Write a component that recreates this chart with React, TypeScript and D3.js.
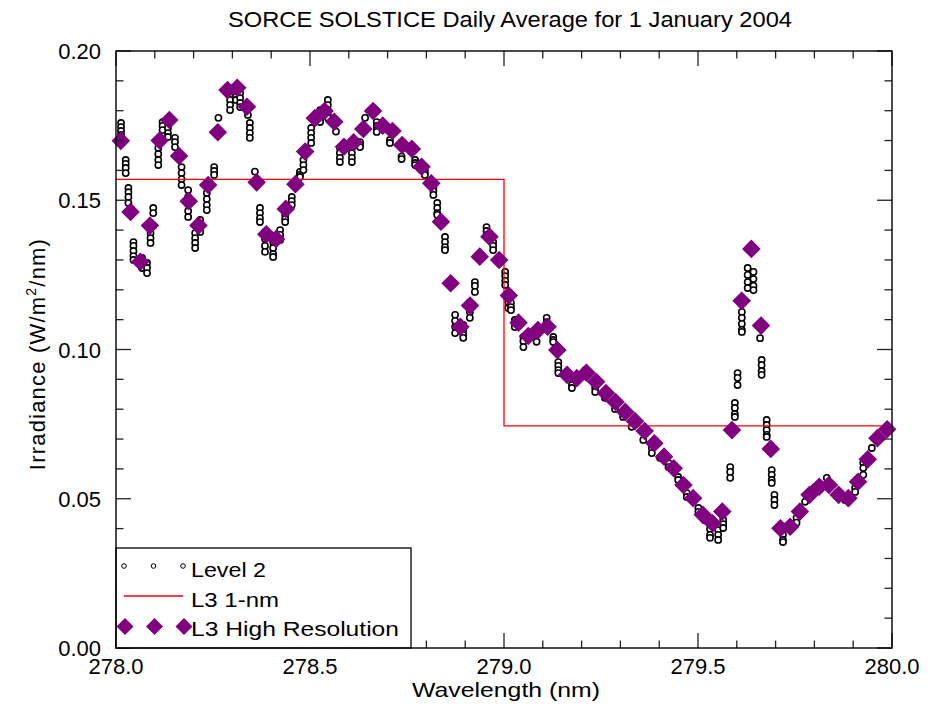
import React from "react";
import * as d3 from "d3";

// ---------- data ----------
// L3 high-resolution spectrum (nm, W/m^2/nm)
const hiresWavelength = [
  278.0125, 278.0375, 278.0625, 278.0875, 278.1125, 278.1375, 278.1625, 278.1875, 278.2125, 278.2375,
  278.2625, 278.2875, 278.3125, 278.3375, 278.3625, 278.3875, 278.4125, 278.4375, 278.4625, 278.4875,
  278.5125, 278.5375, 278.5625, 278.5875, 278.6125, 278.6375, 278.6625, 278.6875, 278.7125, 278.7375,
  278.7625, 278.7875, 278.8125, 278.8375, 278.8625, 278.8875, 278.9125, 278.9375, 278.9625, 278.9875,
  279.0125, 279.0375, 279.0625, 279.0875, 279.1125, 279.1375, 279.1625, 279.1875, 279.2125, 279.2375,
  279.2625, 279.2875, 279.3125, 279.3375, 279.3625, 279.3875, 279.4125, 279.4375, 279.4625, 279.4875,
  279.5125, 279.5375, 279.5625, 279.5875, 279.6125, 279.6375, 279.6625, 279.6875, 279.7125, 279.7375,
  279.7625, 279.7875, 279.8125, 279.8375, 279.8625, 279.8875, 279.9125, 279.9375, 279.9625, 279.9875,
];
const hiresIrradiance = [
  0.1699, 0.1461, 0.1294, 0.1415, 0.17, 0.1769, 0.1648, 0.1497, 0.1415, 0.1551,
  0.1728, 0.1869, 0.1877, 0.1813, 0.156, 0.1386, 0.137, 0.1471, 0.1554, 0.1663,
  0.1775, 0.1799, 0.1763, 0.1679, 0.1694, 0.1739, 0.1799, 0.175, 0.1732, 0.1685,
  0.1672, 0.1612, 0.1557, 0.1428, 0.1222, 0.1076, 0.1147, 0.1311, 0.1378, 0.13,
  0.1181, 0.109, 0.1045, 0.1065, 0.1076, 0.0998, 0.0915, 0.0904, 0.0922, 0.0892,
  0.0854, 0.0824, 0.0791, 0.076, 0.0727, 0.0686, 0.0641, 0.0602, 0.0546, 0.0502,
  0.0446, 0.0418, 0.0457, 0.073, 0.1163, 0.1337, 0.108, 0.0667, 0.0401, 0.0406,
  0.0457, 0.0513, 0.054, 0.0546, 0.0513, 0.0502, 0.0557, 0.0632, 0.0703, 0.0733,
];

// L3 1-nm bins: bin edges and bin averages
const binEdges = [278.0, 279.0, 280.0];
const binIrradiance = [0.157, 0.0744];

// Level 2 individual measurements, grouped by wavelength
const l2Wavelength = [
  278.013, 278.025, 278.032, 278.045, 278.067, 278.08, 278.089, 278.096, 278.109, 278.12,
  278.134, 278.152, 278.169, 278.186, 278.204, 278.217, 278.234, 278.253, 278.264, 278.294,
  278.309, 278.32, 278.34, 278.345, 278.358, 278.371, 278.384, 278.405, 278.423, 278.436,
  278.453, 278.474, 278.483, 278.503, 278.526, 278.546, 278.567, 278.577, 278.608, 278.629,
  278.642, 278.672, 278.706, 278.736, 278.771, 278.796, 278.818, 278.828, 278.848, 278.874,
  278.895, 278.912, 278.925, 278.955, 278.972, 279.003, 279.011, 279.018, 279.028, 279.05,
  279.084, 279.11, 279.127, 279.14, 279.175, 279.209, 279.235, 279.26, 279.286, 279.307,
  279.329, 279.359, 279.381, 279.402, 279.424, 279.449, 279.471, 279.501, 279.518, 279.531,
  279.552, 279.565, 279.583, 279.595, 279.602, 279.613, 279.628, 279.643, 279.66, 279.664,
  279.677, 279.69, 279.697, 279.719, 279.754, 279.776, 279.8015, 279.832, 279.858, 279.879,
  279.905, 279.926, 279.948, 279.966, 279.986,
];
const l2Irradiance = [
  [0.1759, 0.1745, 0.1732, 0.1719, 0.1709],
  [0.1635, 0.1622, 0.1608, 0.1591],
  [0.1541, 0.1527, 0.1511, 0.1491],
  [0.136, 0.1347, 0.133, 0.1313, 0.13],
  [0.1307, 0.129, 0.1273],
  [0.129, 0.1273, 0.1256],
  [0.139, 0.1373, 0.1357],
  [0.1474, 0.1457],
  [0.1675, 0.1655, 0.1635, 0.1618],
  [0.1762, 0.1749, 0.1735],
  [0.1759, 0.1742, 0.1725, 0.1712],
  [0.1709, 0.1695, 0.1678],
  [0.1611, 0.1591, 0.1571, 0.1551],
  [0.1534, 0.1511, 0.1487, 0.1464, 0.1444],
  [0.139, 0.1373, 0.1357, 0.134],
  [0.1434, 0.1417, 0.1394],
  [0.1524, 0.1504, 0.1484, 0.1467],
  [0.1611, 0.1598, 0.1585],
  [0.1776],
  [0.1853, 0.1836, 0.1819, 0.1802],
  [0.1859, 0.1846, 0.1836],
  [0.1859, 0.1842, 0.1826, 0.1812],
  [0.1786],
  [0.1759, 0.1742, 0.1725, 0.1709],
  [0.1596],
  [0.1474, 0.1457, 0.144, 0.1427],
  [0.1394, 0.137, 0.1347, 0.1327],
  [0.136, 0.134, 0.132, 0.131],
  [0.14, 0.1384, 0.1367],
  [0.1451, 0.1437, 0.1427],
  [0.1511, 0.1497, 0.1484],
  [0.1595, 0.1585, 0.1578],
  [0.1635, 0.1618, 0.1601],
  [0.1742, 0.1725, 0.1709, 0.1692],
  [0.1802, 0.1786, 0.1769, 0.1762],
  [0.1836, 0.1819, 0.1802, 0.1786, 0.1776],
  [0.173],
  [0.1675, 0.1658, 0.1642, 0.1628],
  [0.1675, 0.1658, 0.1642, 0.1628],
  [0.1695, 0.1685, 0.1678],
  [0.1776],
  [0.1762, 0.1749, 0.1735, 0.1729],
  [0.1702, 0.1692],
  [0.1646, 0.1638],
  [0.1635, 0.1625, 0.1618],
  [0.1601, 0.1591, 0.1585],
  [0.1541, 0.1531, 0.1518],
  [0.1491, 0.1474, 0.1457, 0.1451],
  [0.1377, 0.136, 0.1343, 0.1333],
  [0.1116, 0.1096, 0.1076, 0.1055],
  [0.1082, 0.1065, 0.1049, 0.1039],
  [0.1159, 0.1142, 0.1126, 0.1106],
  [0.1226, 0.1213, 0.1193],
  [0.141, 0.1397, 0.1384],
  [0.136, 0.1347, 0.1333],
  [0.126, 0.1246, 0.123, 0.1216],
  [0.1173, 0.1159, 0.1139],
  [0.1156, 0.1142, 0.1132],
  [0.1099, 0.1089, 0.1075],
  [0.1042, 0.1028, 0.1008],
  [0.1026],
  [0.1106, 0.1092, 0.1075],
  [0.1042, 0.1032, 0.1025],
  [0.0958, 0.0945, 0.0931, 0.0921],
  [0.0881, 0.0871],
  [0.0931],
  [0.0871, 0.0858],
  [0.0838],
  [0.0801],
  [0.0774],
  [0.0741],
  [0.0697],
  [0.067, 0.0653],
  [0.0637],
  [0.062, 0.0606],
  [0.0573, 0.0563],
  [0.0519, 0.0506],
  [0.0469, 0.0456],
  [0.0446, 0.0429],
  [0.0419, 0.0399, 0.0379, 0.0369],
  [0.0395, 0.0379, 0.0362],
  [0.0429, 0.0415, 0.0402],
  [0.0606, 0.059, 0.057],
  [0.0821, 0.0804, 0.0784, 0.0774],
  [0.0921, 0.0905, 0.0881],
  [0.1126, 0.1106, 0.1086, 0.1066, 0.1059],
  [0.1273, 0.125, 0.1226, 0.1206],
  [0.126, 0.1236, 0.1213, 0.1199],
  [0.1038],
  [0.0965, 0.0948, 0.0928, 0.0915],
  [0.0764, 0.0747, 0.073, 0.0714, 0.0707],
  [0.0596, 0.058, 0.0563, 0.0553],
  [0.0513, 0.0496, 0.0479],
  [0.0395, 0.0379, 0.0362, 0.0355],
  [0.0436, 0.042],
  [0.049],
  [0.0539],
  [0.057],
  [0.0519],
  [0.0496],
  [0.0536, 0.0523],
  [0.062, 0.0603, 0.058],
  [0.067],
  [0.0707],
  [0.074],
];

const xTickValues = [278.0, 278.5, 279.0, 279.5, 280.0];
const yTickValues = [0.0, 0.05, 0.1, 0.15, 0.2];
const legendLabels = ["Level 2", "L3 1-nm", "L3 High Resolution"];

const titleText = "SORCE SOLSTICE Daily Average for 1 January 2004";

// ---------- layout ----------
const W = 934;
const H = 704;
const plot = { left: 116, right: 892, top: 51, bottom: 648 };
const FONT = "'Liberation Sans', Arial, Helvetica, sans-serif";
const PURPLE = "#800080";
const legendWidths = [75, 88, 208];

export default function App() {
  const x = d3.scaleLinear().domain([278, 280]).range([plot.left, plot.right]);
  const y = d3.scaleLinear().domain([0, 0.2]).range([plot.bottom, plot.top]);

  const xMinor = d3.range(0, 21).map((i) => 278 + i * 0.1);
  const yMinor = d3.range(0, 21).map((i) => i * 0.01);

  const stepPts: [number, number][] = [
    [binEdges[0], binIrradiance[0]],
    [binEdges[1], binIrradiance[1]],
    [binEdges[2], binIrradiance[1]],
  ];
  const stepLine = d3
    .line<[number, number]>()
    .x((d) => x(d[0]))
    .y((d) => y(d[1]))
    .curve(d3.curveStepAfter)(stepPts);

  const diamond = (cx: number, cy: number, r: number) =>
    `M${cx},${cy - r}L${cx + r},${cy}L${cx},${cy + r}L${cx - r},${cy}Z`;

  const majorLen = 15;
  const minorLen = 7.5;
  const tickColor = "#222";

  const isMajorX = (v: number) => xTickValues.some((t) => Math.abs(t - v) < 1e-6);
  const isMajorY = (v: number) => yTickValues.some((t) => Math.abs(t - v) < 1e-6);

  const l2Points: { w: number; v: number }[] = [];
  l2Wavelength.forEach((w, i) => l2Irradiance[i].forEach((v) => l2Points.push({ w, v })));

  const legend = { x0: 116, y0: 548, x1: 411, y1: 648 };
  const legendSymX = [124, 153.5, 183];

  return (
    <svg
      width={W}
      height={H}
      style={{ position: "absolute", left: 0, top: 0, background: "#fff" }}
      fontFamily={FONT}
    >
      <rect x={0} y={0} width={W} height={H} fill="#fff" />

      {/* title */}
      <text
        x={510}
        y={27}
        fontSize={22}
        textAnchor="middle"
        textLength={564}
        lengthAdjust="spacingAndGlyphs"
      >
        {titleText}
      </text>

      {/* Level 2 measurements */}
      <g>
        {l2Points.map((p, i) => (
          <circle
            key={i}
            cx={x(p.w)}
            cy={y(p.v)}
            r={3.1}
            fill="#fff"
            stroke="#000"
            strokeWidth={1.6}
          />
        ))}
      </g>

      {/* L3 1-nm bins */}
      <path d={stepLine || ""} fill="none" stroke="#ff0000" strokeWidth={1.3} />

      {/* L3 high resolution */}
      <g>
        {hiresWavelength.map((w, i) => (
          <path key={i} d={diamond(x(w), y(hiresIrradiance[i]), 9.3)} fill={PURPLE} />
        ))}
      </g>

      {/* ticks on all four sides */}
      <g stroke={tickColor} strokeWidth={1.3}>
        {xMinor.map((v, i) => {
          const len = isMajorX(v) ? majorLen : minorLen;
          const px = x(v);
          return (
            <g key={`xt${i}`}>
              <line x1={px} x2={px} y1={plot.bottom} y2={plot.bottom - len} />
              <line x1={px} x2={px} y1={plot.top} y2={plot.top + len} />
            </g>
          );
        })}
        {yMinor.map((v, i) => {
          const len = isMajorY(v) ? majorLen : minorLen;
          const py = y(v);
          return (
            <g key={`yt${i}`}>
              <line x1={plot.left} x2={plot.left + len} y1={py} y2={py} />
              <line x1={plot.right} x2={plot.right - len} y1={py} y2={py} />
            </g>
          );
        })}
      </g>

      {/* legend */}
      <g>
        <rect
          x={legend.x0}
          y={legend.y0}
          width={legend.x1 - legend.x0}
          height={legend.y1 - legend.y0}
          fill="#fff"
          stroke="#000"
          strokeWidth={1.3}
        />
        {legendSymX.map((lx, i) => (
          <circle key={`lc${i}`} cx={lx} cy={566} r={2.3} fill="#fff" stroke="#000" strokeWidth={1} />
        ))}
        <line x1={legendSymX[0]} x2={legendSymX[2]} y1={596} y2={596} stroke="#ff0000" strokeWidth={1.3} />
        {legendSymX.map((lx, i) => (
          <path key={`ld${i}`} d={diamond(lx + 1, 626.5, 8.5)} fill={PURPLE} />
        ))}
        {legendLabels.map((t, i) => (
          <text
            key={t}
            x={191}
            y={577 + i * 29.5}
            fontSize={21}
            textLength={legendWidths[i]}
            lengthAdjust="spacingAndGlyphs"
          >
            {t}
          </text>
        ))}
      </g>

      {/* frame */}
      <rect
        x={plot.left}
        y={plot.top}
        width={plot.right - plot.left}
        height={plot.bottom - plot.top}
        fill="none"
        stroke="#000"
        strokeWidth={1.4}
      />

      {/* tick labels */}
      {xTickValues.map((v) => (
        <text key={`xl${v}`} x={x(v)} y={674} fontSize={22} textAnchor="middle">
          {v.toFixed(1)}
        </text>
      ))}
      {yTickValues.map((v) => (
        <text key={`yl${v}`} x={101} y={y(v) + 8} fontSize={22} textAnchor="end">
          {v.toFixed(2)}
        </text>
      ))}

      {/* axis titles */}
      <text
        x={506}
        y={697}
        fontSize={21}
        textAnchor="middle"
        textLength={188}
        lengthAdjust="spacingAndGlyphs"
      >
        Wavelength (nm)
      </text>
      <text
        transform={`translate(45, 354) rotate(-90)`}
        fontSize={22}
        letterSpacing={1.2}
        textAnchor="middle"
      >
        Irradiance (W/m
        <tspan fontSize={14} dy={-9}>
          2
        </tspan>
        <tspan dy={9}>/nm)</tspan>
      </text>
    </svg>
  );
}
